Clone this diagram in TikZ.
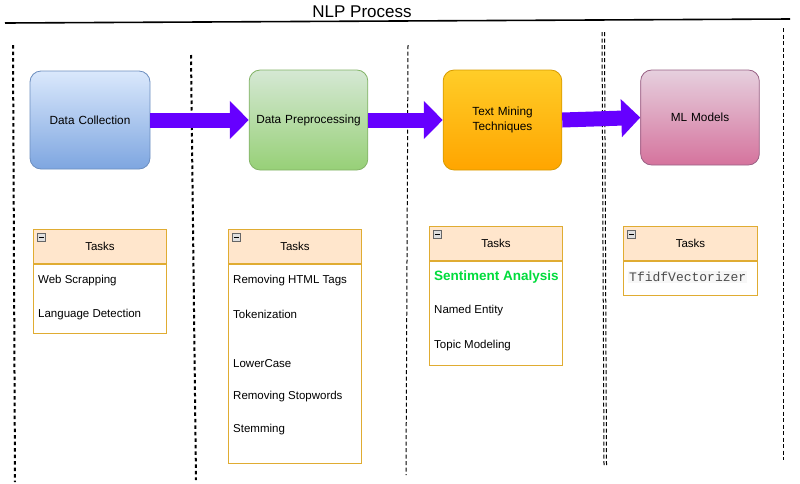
\documentclass[tikz,border=0pt]{standalone}
\usepackage{fontspec}
\setmainfont{Liberation Sans}
\newfontfamily\monofont{Liberation Mono}
\usetikzlibrary{arrows.meta}
\definecolor{arrowpurple}{RGB}{102,0,255}
\definecolor{taskborder}{RGB}{224,172,50}
\definecolor{taskhead}{RGB}{255,230,204}
\definecolor{sentgreen}{RGB}{0,220,60}
\tikzset{
  stage/.style={draw, rounded corners=11pt, minimum width=120pt, minimum height=98pt, line width=0.8pt, font=\fontsize{11.8}{15}\selectfont, align=center, text width=112pt},
  fatarrow/.style={arrowpurple, line width=15pt, -{Triangle[width=37pt,length=19pt]}},
  taskhead/.style={draw=taskborder, fill=taskhead, line width=1pt, minimum height=34pt, anchor=north west, font=\fontsize{11.5}{14}\selectfont, inner sep=0pt},
  taskbody/.style={draw=taskborder, fill=white, line width=1pt, anchor=north west, inner sep=0pt},
  item/.style={anchor=west, font=\fontsize{11.5}{14}\selectfont, inner sep=0pt},
  minusicon/.style={draw=gray!80!black, fill=gray!25, minimum size=8pt, inner sep=0pt, line width=0.5pt, anchor=north west},
  sepA/.style={line width=2pt, dash pattern=on 3.5pt off 3pt},
  sepB/.style={line width=1pt, dash pattern=on 4pt off 2.5pt},
}
\begin{document}
\begin{tikzpicture}[x=1pt,y=-1pt]
\useasboundingbox (0,0) rectangle (800,483);
% title
\node[font=\fontsize{17}{19}\selectfont] (title) at (362,12) {NLP Process};
\coordinate (tl) at (5,23);
\coordinate (tr) at (790,19);
\draw[line width=1.6pt] (tl) -- (tr);
% separators
\coordinate (s1a) at (13,45);  \coordinate (s1b) at (15,482);
\coordinate (s2a) at (191,55); \coordinate (s2b) at (196,480);
\coordinate (s3a) at (408,45); \coordinate (s3b) at (406,475);
\coordinate (s4a) at (602,32); \coordinate (s4b) at (604,465);
\coordinate (s4c) at (604.5,32); \coordinate (s4d) at (606.5,465);
\coordinate (s5a) at (783,28); \coordinate (s5b) at (783,460);
\draw[sepA] (s1a) -- (s1b);
\draw[sepA] (s2a) -- (s2b);
\draw[sepB] (s3a) -- (s3b);
\draw[sepB] (s4a) -- (s4b);
\draw[sepB] (s4c) -- (s4d);
\draw[sepB] (s5a) -- (s5b);
% stages
\node[stage, draw={rgb,255:red,108;green,142;blue,191}, top color={rgb,255:red,218;green,232;blue,252}, bottom color={rgb,255:red,126;green,166;blue,224}] (dc) at (90,120) {Data Collection};
\node[stage, minimum width=115pt, minimum height=100pt, draw={rgb,255:red,130;green,179;blue,102}, top color={rgb,255:red,213;green,232;blue,212}, bottom color={rgb,255:red,151;green,208;blue,119}] (dp) at (308.5,120) {Data Preprocessing};
\node[stage, minimum width=115pt, minimum height=100pt, draw={rgb,255:red,215;green,155;blue,0}, top color={rgb,255:red,255;green,205;blue,40}, bottom color={rgb,255:red,255;green,165;blue,0}] (tm) at (502.5,120) {Text Mining\\Techniques};
\node[stage, minimum width=114pt, minimum height=95pt, draw={rgb,255:red,153;green,97;blue,133}, top color={rgb,255:red,230;green,208;blue,222}, bottom color={rgb,255:red,213;green,115;blue,157}] (ml) at (700,117.5) {ML Models};
% arrows
\draw[fatarrow] (dc.east) -- (dp.west);
\draw[fatarrow] (dp.east) -- (tm.west);
\draw[fatarrow] (tm.east) -- (ml.west);
% task box 1
\node[taskhead, minimum width=133pt] (h1) at (33,229) {Tasks};
\node[taskbody, minimum width=133pt, minimum height=69pt] (b1) at (h1.south west) {};
\node[minusicon] (m1) at (37,233) {};
\draw[line width=0.8pt] ([xshift=1.8pt]m1.west) -- ([xshift=-1.8pt]m1.east);
\node[item] (t11) at (38,281) {Web Scrapping};
\node[item] (t12) at (38,315) {Language Detection};
% task box 2
\node[taskhead, minimum width=133pt] (h2) at (228,229) {Tasks};
\node[taskbody, minimum width=133pt, minimum height=199pt] (b2) at (h2.south west) {};
\node[minusicon] (m2) at (232,233) {};
\draw[line width=0.8pt] ([xshift=1.8pt]m2.west) -- ([xshift=-1.8pt]m2.east);
\node[item] (t21) at (233,281) {Removing HTML Tags};
\node[item] (t22) at (233,314) {Tokenization};
\node[item] (t23) at (233,364) {LowerCase};
\node[item] (t24) at (233,397) {Removing Stopwords};
\node[item] (t25) at (233,430) {Stemming};
% task box 3
\node[taskhead, minimum width=133pt] (h3) at (429,226) {Tasks};
\node[taskbody, minimum width=133pt, minimum height=104pt] (b3) at (h3.south west) {};
\node[minusicon] (m3) at (433,230) {};
\draw[line width=0.8pt] ([xshift=1.8pt]m3.west) -- ([xshift=-1.8pt]m3.east);
\node[item, font=\fontsize{13.5}{16}\selectfont\bfseries, text=sentgreen] (t31) at (434,277) {Sentiment Analysis};
\node[item] (t32) at (434,311) {Named Entity};
\node[item] (t33) at (434,346) {Topic Modeling};
% task box 4
\node[taskhead, minimum width=134pt] (h4) at (623,226) {Tasks};
\node[taskbody, minimum width=134pt, minimum height=34pt] (b4) at (h4.south west) {};
\node[minusicon] (m4) at (627,230) {};
\draw[line width=0.8pt] ([xshift=1.8pt]m4.west) -- ([xshift=-1.8pt]m4.east);
\node[item, font=\fontsize{13}{15}\monofont, text=black!70, fill=black!3, inner sep=1pt] (t41) at (628,277) {TfidfVectorizer};
\end{tikzpicture}
\end{document}
